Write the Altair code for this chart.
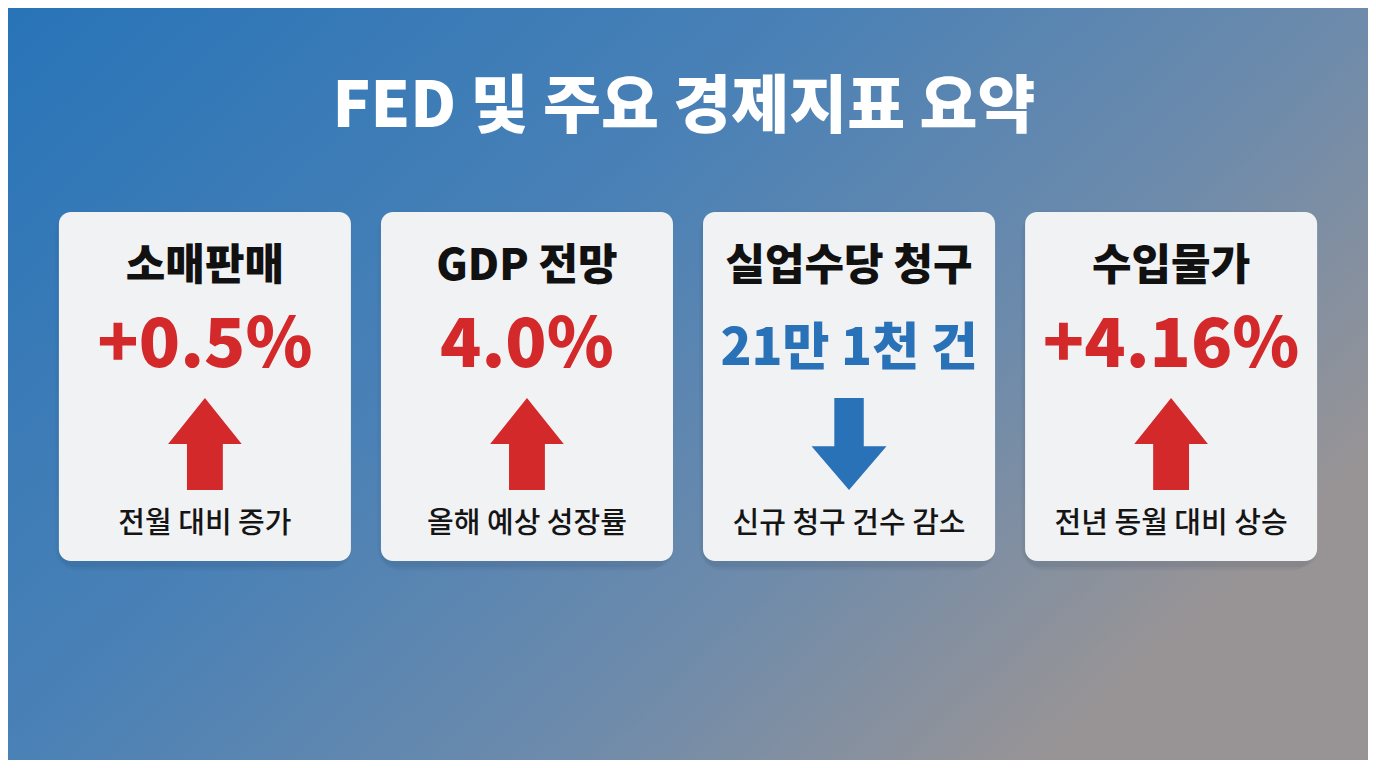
import altair as alt
import pandas as pd

# ---- data ----
chart_title = "FED 및 주요 경제지표 요약"
card_titles = ["소매판매", "GDP 전망", "실업수당 청구", "수입물가"]
card_values = ["+0.5%", "4.0%", "21만 1천 건", "+4.16%"]
card_notes = ["전월 대비 증가", "올해 예상 성장률", "신규 청구 건수 감소", "전년 동월 대비 상승"]
card_direction = ["up", "up", "down", "up"]

cards = pd.DataFrame({
    "title": card_titles,
    "value": card_values,
    "note": card_notes,
    "direction": card_direction,
})
one = pd.DataFrame({"k": [0]})

W, H = 1360, 752
FONT = "Noto Sans CJK KR"
RED = "#d3292b"
BLUE = "#2a72b8"

xscale = alt.Scale(domain=card_titles, paddingInner=0.0932, paddingOuter=0.158)
X = alt.X("title:N", scale=xscale, axis=None, sort=None)

up_path = "M0,-1L0.8,0L0.39,0L0.39,1L-0.39,1L-0.39,0L-0.8,0Z"
down_path = "M-0.32,-1L0.32,-1L0.32,0.05L0.815,0.05L0,1L-0.815,0.05L-0.32,0.05Z"

bg = alt.Chart(one).mark_rect(
    color=alt.LinearGradient(
        gradient="linear", x1=0, y1=0, x2=1, y2=0.6,
        stops=[
            alt.GradientStop(offset=0, color="#2874b8"),
            alt.GradientStop(offset=0.44, color="#4a81b6"),
            alt.GradientStop(offset=0.74, color="#6e8bab"),
            alt.GradientStop(offset=1, color="#989496"),
        ],
    )
).encode(x=alt.value(0), x2=alt.value(W), y=alt.value(0), y2=alt.value(H))

title = alt.Chart(one).mark_text(
    text=chart_title, font=FONT, fontSize=63, fontWeight=900, color="white",
    align="center", baseline="middle",
).encode(x=alt.value(676), y=alt.value(100))

shadows = []
for o, a in [(12, 0.03), (8, 0.04), (4, 0.05)]:
    shadows.append(
        alt.Chart(cards).mark_rect(
            color="#1a2a40", opacity=a, cornerRadius=12 + o,
            xOffset=-o / 2 + 2, x2Offset=o / 2 + 2, yOffset=-o / 2 + 4, y2Offset=o / 2 + 4,
        ).encode(x=X, y=alt.value(204), y2=alt.value(553))
    )

card = alt.Chart(cards).mark_rect(color="#f1f2f4", cornerRadius=12).encode(
    x=X, y=alt.value(204), y2=alt.value(553)
)

ctitle = alt.Chart(cards).mark_text(
    font=FONT, fontSize=43, fontWeight=900, color="#111111", baseline="middle"
).encode(x=X, y=alt.value(259), text="title:N")

colscale = alt.Scale(domain=["up", "down"], range=[RED, BLUE])

val_up = alt.Chart(cards).transform_filter("datum.direction == 'up'").mark_text(
    font=FONT, fontSize=68, fontWeight=900, baseline="middle"
).encode(x=X, y=alt.value(339), text="value:N",
         color=alt.Color("direction:N", scale=colscale, legend=None))

val_down = alt.Chart(cards).transform_filter("datum.direction == 'down'").mark_text(
    font=FONT, fontSize=51, fontWeight=900, baseline="middle"
).encode(x=X, y=alt.value(342), text="value:N",
         color=alt.Color("direction:N", scale=colscale, legend=None))

arrows = alt.Chart(cards).mark_point(filled=True, opacity=1, size=8464).encode(
    x=X, y=alt.value(436),
    shape=alt.Shape("direction:N", scale=alt.Scale(domain=["up", "down"], range=[up_path, down_path]), legend=None),
    color=alt.Color("direction:N", scale=colscale, legend=None),
)

note = alt.Chart(cards).mark_text(
    font=FONT, fontSize=29, fontWeight=500, color="#151515", baseline="middle"
).encode(x=X, y=alt.value(516), text="note:N")

chart = alt.layer(bg, title, *shadows, card, ctitle, val_up, val_down, arrows, note).properties(
    width=W, height=H, padding=0, autosize=alt.AutoSizeParams(type="none")
).configure_view(stroke=None)

chart.save("out.html", embed_options={"renderer": "svg", "actions": False})
